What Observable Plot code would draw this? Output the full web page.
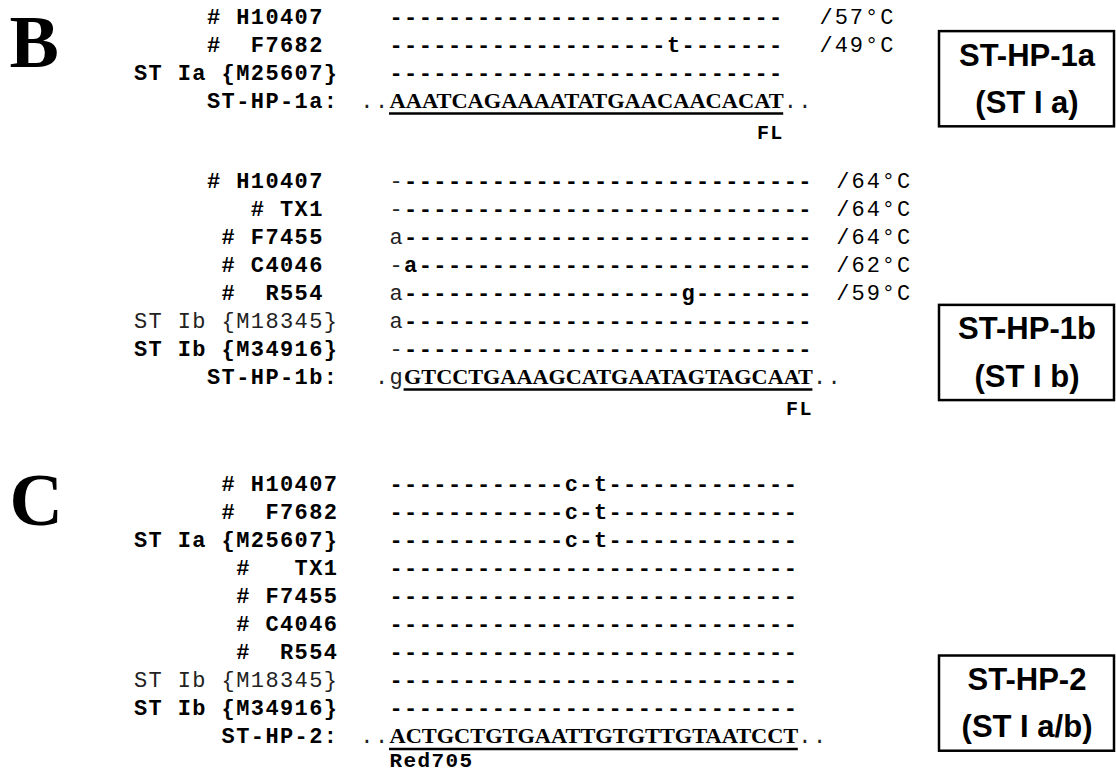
<!DOCTYPE html>
<html><head><meta charset="utf-8">
<script src="https://cdn.jsdelivr.net/npm/d3@7"></script>
<script src="https://cdn.jsdelivr.net/npm/@observablehq/plot@0.6"></script>
<style>
html,body{margin:0;padding:0;background:#fff;}
svg text{white-space:pre;}
</style></head><body><div id="chart"></div>
<script>
// ---------------- data ----------------
const panelLetters = ["B", "C"];

// Panel B, probe ST-HP-1a
const hp1aLabels = ["# H10407 ", "#  F7682 ", "ST Ia {M25607}"];
const hp1aRows = [
  "---------------------------",
  "-------------------t-------",
  "---------------------------"
];
const hp1aTemps = ["/57°C", "/49°C", ""];
const hp1aProbeName = "ST-HP-1a:";
const hp1aFlank = ["..", ".."];
const hp1aProbe = "AAATCAGAAAATATGAACAACACAT";
const hp1aDye = "FL";
const hp1aBox = ["ST-HP-1a", "(ST I a)"];

// Panel B, probe ST-HP-1b
const hp1bLabels = ["# H10407 ", "# TX1 ", "# F7455 ", "# C4046 ", "#  R554 ", "ST Ib {M18345}", "ST Ib {M34916}"];
const hp1bRows = [
  "-----------------------------",
  "-----------------------------",
  "a----------------------------",
  "-a---------------------------",
  "a-------------------g--------",
  "a----------------------------",
  "-----------------------------"
];
const hp1bTemps = ["/64°C", "/64°C", "/64°C", "/62°C", "/59°C", "", ""];
const hp1bProbeName = "ST-HP-1b:";
const hp1bFlank = [".g", ".."];
const hp1bProbe = "GTCCTGAAAGCATGAATAGTAGCAAT";
const hp1bDye = "FL";
const hp1bBox = ["ST-HP-1b", "(ST I b)"];

// Panel C, probe ST-HP-2
const hp2Labels = ["# H10407", "#  F7682", "ST Ia {M25607}", "#   TX1", "# F7455", "# C4046", "#  R554", "ST Ib {M18345}", "ST Ib {M34916}"];
const hp2Rows = [
  "------------c-t-------------",
  "------------c-t-------------",
  "------------c-t-------------",
  "----------------------------",
  "----------------------------",
  "----------------------------",
  "----------------------------",
  "----------------------------",
  "----------------------------"
];
const hp2Temps = ["", "", "", "", "", "", "", "", ""];
const hp2ProbeName = "ST-HP-2:";
const hp2Flank = ["..", ".."];
const hp2Probe = "ACTGCTGTGAATTGTGTTGTAATCCT";
const hp2Dye = "Red705";
const hp2Box = ["ST-HP-2", "(ST I a/b)"];

const thinLabels = ["ST Ib {M18345}"];

// ---------------- layout ----------------
const W = 1116, H = 775;
const CW = 14.6, COL0 = 389;     // alignment column width / left edge of column 0 (px)
const PITCH = 28, LINE0 = 16;    // line pitch / centre of the first line (px)
const MONO = "'Courier New', 'Liberation Mono', monospace";
const SERIF = "'Times New Roman', 'Liberation Serif', serif";
const SANS = "Arial, 'Liberation Sans', sans-serif";

const blocks = [
  {labels: hp1aLabels, rows: hp1aRows, temps: hp1aTemps, name: hp1aProbeName, flank: hp1aFlank, probe: hp1aProbe, dye: hp1aDye, box: hp1aBox,
   start: 0, probeCol: 0, tempGap: 2.45, dyeEnd: true, boxTop: 0.54, letter: 0, letterLine: 0.95},
  {labels: hp1bLabels, rows: hp1bRows, temps: hp1bTemps, name: hp1bProbeName, flank: hp1bFlank, probe: hp1bProbe, dye: hp1bDye, box: hp1bBox,
   start: 5.857, probeCol: 1, tempGap: 1.6, dyeEnd: true, boxTop: 4.46},
  {labels: hp2Labels, rows: hp2Rows, temps: hp2Temps, name: hp2ProbeName, flank: hp2Flank, probe: hp2Probe, dye: hp2Dye, box: hp2Box,
   start: 16.7, probeCol: 0, tempGap: 2, dyeEnd: false, boxTop: 6.14, letter: 1, letterLine: 0.6}
];
const BOX_H = 3.4, BOX_T1 = 0.86, BOX_T2 = 2.55;

const labelCol = -3.5;
const boxX1 = (939 - COL0) / CW, boxX2 = (1114 - COL0) / CW;
const letterCol = (9 - COL0) / CW;

const labelData = [], charData = [], tempData = [], probeData = [], dyeData = [], boxData = [], boxText = [], letterData = [];
for (const b of blocks) {
  const n = b.rows.length;
  const len = b.rows[0].length;
  b.labels.forEach((t, i) => labelData.push({text: t, line: b.start + i, thin: thinLabels.includes(t)}));
  labelData.push({text: b.name, line: b.start + n, thin: false});
  b.rows.forEach((r, i) => {
    [...r].forEach((ch, k) => charData.push({ch, col: k + 0.5, line: b.start + i, thin: k < b.probeCol}));
    if (b.temps[i]) tempData.push({text: b.temps[i], col: len + b.tempGap, line: b.start + i});
  });
  const pl = b.start + n;
  const left = [...b.flank[0]];
  left.forEach((ch, k) => charData.push({ch, col: b.probeCol - left.length + k + 0.5, line: pl, thin: true}));
  [...b.flank[1]].forEach((ch, k) => charData.push({ch, col: len + k + 0.5, line: pl, thin: true}));
  probeData.push({text: b.probe, x1: b.probeCol, x2: len, line: pl});
  dyeData.push({text: b.dye, col: b.dyeEnd ? len : 0, anchor: b.dyeEnd ? "end" : "start", line: pl + (b.dyeEnd ? 1.15 : 0.88)});
  boxData.push({x1: boxX1, x2: boxX2, y1: b.start + b.boxTop, y2: b.start + b.boxTop + BOX_H});
  boxText.push({text: b.box[0], col: (boxX1 + boxX2) / 2, line: b.start + b.boxTop + BOX_T1});
  boxText.push({text: b.box[1], col: (boxX1 + boxX2) / 2, line: b.start + b.boxTop + BOX_T2});
  if (b.letter !== undefined) letterData.push({text: panelLetters[b.letter], col: letterCol, line: b.start + b.letterLine});
}

const plot = Plot.plot({
  width: W, height: H,
  marginTop: 0, marginRight: 0, marginBottom: 0, marginLeft: 0,
  style: {background: "#fff", color: "#000", overflow: "visible"},
  x: {domain: [-COL0 / CW, (W - COL0) / CW], range: [0, W], axis: null},
  y: {domain: [-LINE0 / PITCH, (H - LINE0) / PITCH], range: [0, H], axis: null},
  marks: [
    Plot.rect(boxData, {x1: "x1", x2: "x2", y1: "y1", y2: "y2", fill: "white", stroke: "black", strokeWidth: 2.5}),
    Plot.text(boxText, {x: "col", y: "line", text: "text", fontFamily: SANS, fontWeight: "bold", fontSize: 31, fill: "black"}),
    Plot.text(letterData, {x: "col", y: "line", text: "text", textAnchor: "start", fontFamily: SERIF, fontWeight: "bold", fontSize: 74, fill: "black"}),
    Plot.text(labelData.filter(d => !d.thin), {x: () => labelCol, y: "line", text: "text", textAnchor: "end", fontFamily: MONO, fontWeight: "bold", fontSize: 22, fill: "black"}),
    Plot.text(labelData.filter(d => d.thin), {x: () => labelCol, y: "line", text: "text", textAnchor: "end", fontFamily: MONO, fontWeight: "normal", fontSize: 22, fill: "#222"}),
    Plot.text(charData.filter(d => !d.thin), {x: "col", y: "line", text: "ch", fontFamily: MONO, fontWeight: "bold", fontSize: 22, fill: "black"}),
    Plot.text(charData.filter(d => d.thin), {x: "col", y: "line", text: "ch", fontFamily: MONO, fontWeight: "normal", fontSize: 22, fill: "#222"}),
    Plot.text(tempData, {x: "col", y: "line", text: "text", textAnchor: "start", fontFamily: "'Liberation Mono', monospace", fontSize: 22, fill: "black"}),
    Plot.text(probeData, {x: "x1", y: "line", text: "text", textAnchor: "start", fontFamily: SERIF, fontWeight: "bold", fontSize: 22, fill: "black"}),
    Plot.ruleY(probeData, {y: "line", x1: "x1", x2: "x2", dy: 13, stroke: "black", strokeWidth: 2.5}),
    Plot.text(dyeData.filter(d => d.anchor === "end"), {x: "col", y: "line", text: "text", textAnchor: "end", fontFamily: MONO, fontWeight: "bold", fontSize: 20, fill: "black"}),
    Plot.text(dyeData.filter(d => d.anchor === "start"), {x: "col", y: "line", text: "text", textAnchor: "start", fontFamily: MONO, fontWeight: "bold", fontSize: 21, fill: "black"})
  ]
});

// fit monospace pitch and probe widths to the alignment columns
const xs = plot.scale("x");
plot.querySelectorAll("g[font-family]").forEach(g => {
  const f = g.getAttribute("font-family");
  if (f.includes("Courier")) g.style.letterSpacing = "1.4px";
  else if (f.startsWith("'Liberation Mono'")) g.style.letterSpacing = "2px";
});
plot.querySelectorAll("text").forEach(t => {
  const p = probeData.find(d => d.text === t.textContent);
  if (p) {
    t.setAttribute("textLength", xs.apply(p.x2) - xs.apply(p.x1));
    t.setAttribute("lengthAdjust", "spacingAndGlyphs");
  }
});
document.getElementById("chart").appendChild(plot);
</script></body></html>
